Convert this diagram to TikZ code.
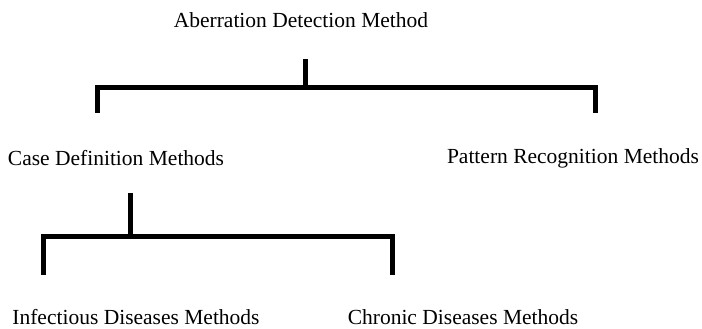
\documentclass[tikz,border=0pt]{standalone}
\usepackage{fontspec}
\setmainfont{Liberation Serif}
\begin{document}
\begin{tikzpicture}[x=1pt,y=1pt,
  lbl/.style={inner sep=0pt, font=\fontsize{21.5}{26}\selectfont},
  bracket/.style={line width=5pt, line cap=butt, line join=miter}]
\useasboundingbox (0,0) rectangle (702,329);
\node[lbl] (root) at (301,309) {Aberration Detection Method};
\node[lbl] (case) at (116,171) {Case Definition Methods};
\node[lbl] (pat) at (573,171) {Pattern Recognition Methods};
\node[lbl] (inf) at (136,12) {Infectious Diseases Methods};
\node[lbl] (chr) at (463,12) {Chronic Diseases Methods};
% top bracket
\coordinate (t0) at (305,270);
\coordinate (tm) at (305,241);
\coordinate (tl) at (97,216);
\coordinate (tr) at (595,216);
\draw[bracket] (t0) -- (tm);
\draw[bracket] (tl) |- (tm) -| (tr);
% lower bracket
\coordinate (b0) at (130,136);
\coordinate (bm) at (130,92);
\coordinate (bl) at (43,54);
\coordinate (br) at (392,54);
\draw[bracket] (b0) -- (bm);
\draw[bracket] (bl) |- (bm) -| (br);
\end{tikzpicture}
\end{document}
